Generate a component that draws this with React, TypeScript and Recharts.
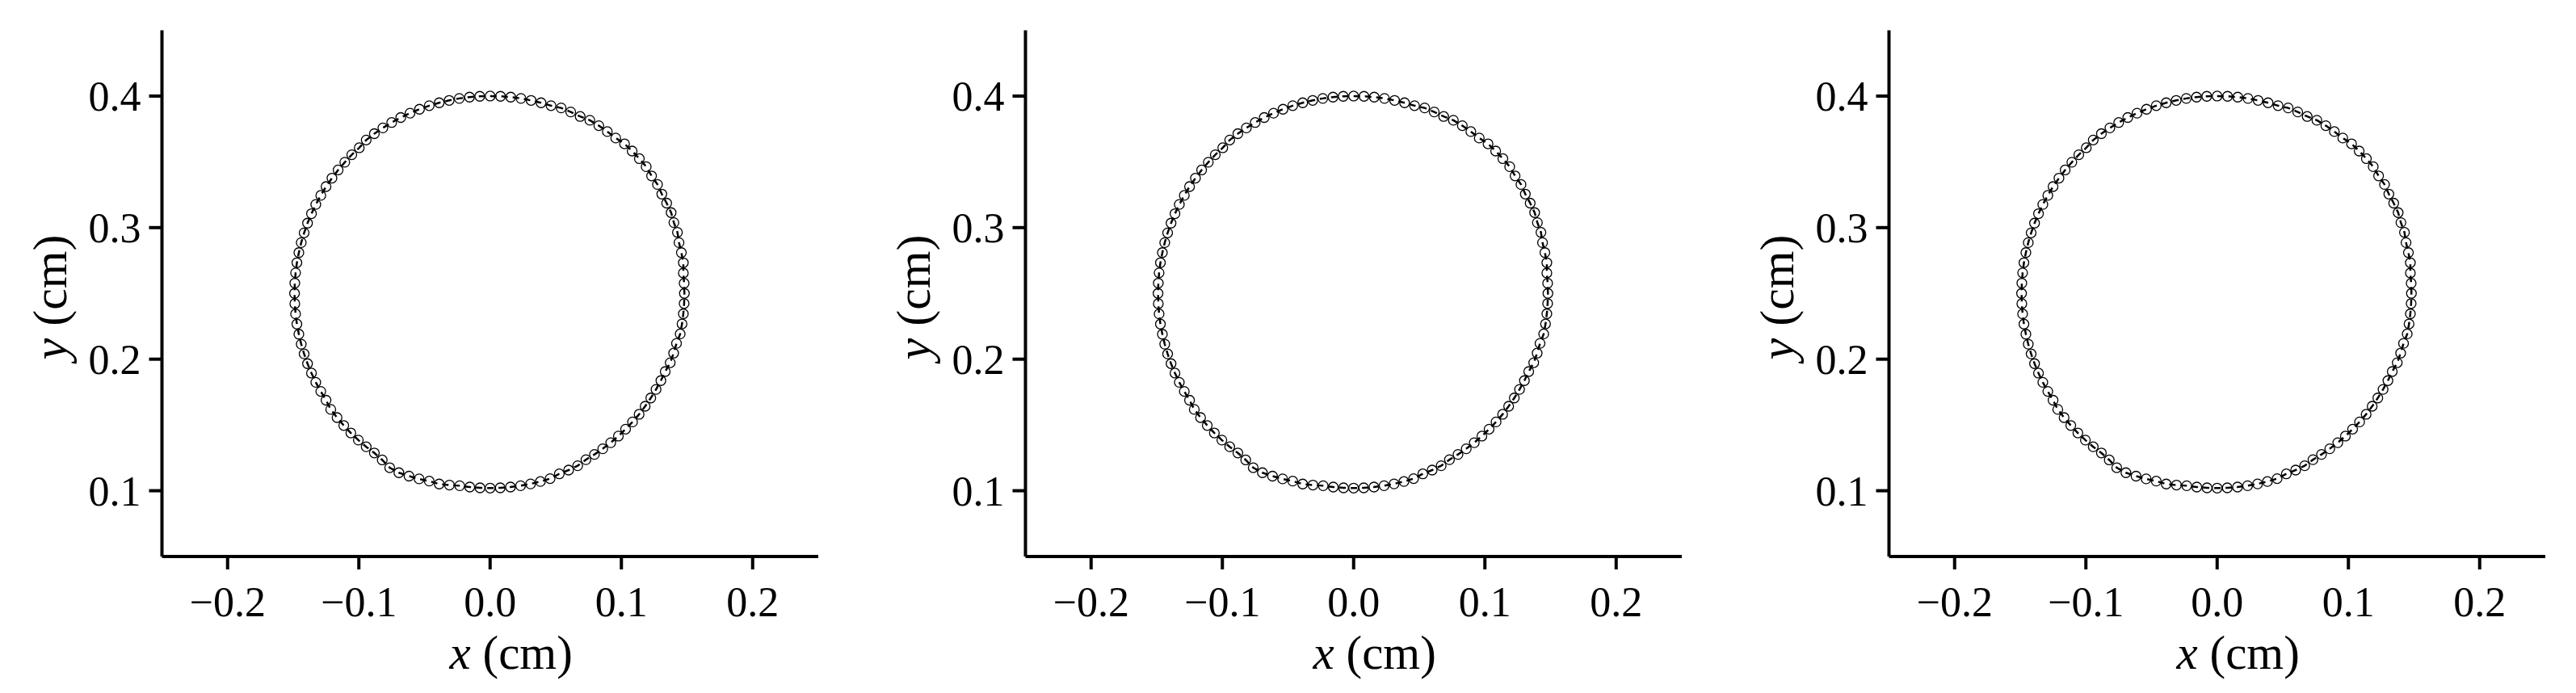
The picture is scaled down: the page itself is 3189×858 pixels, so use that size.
import React from 'react';
import { ScatterChart, Scatter, XAxis, YAxis, Label } from 'recharts';

// boundary points (x, y in cm), counter-clockwise from the right side
const ring: [number, number][] = [
  [0.148, 0.25], [0.1478, 0.2577], [0.1472, 0.2655], [0.1472, 0.2733], [0.1457, 0.281],
  [0.1439, 0.2886], [0.1427, 0.2964], [0.14, 0.3038], [0.1379, 0.3114], [0.1345, 0.3186],
  [0.1308, 0.3255], [0.1275, 0.3328], [0.123, 0.3393], [0.1189, 0.3463], [0.1137, 0.3524],
  [0.1082, 0.3582], [0.1024, 0.3637], [0.0957, 0.3681], [0.0893, 0.373], [0.0828, 0.3775],
  [0.076, 0.3816], [0.0686, 0.3845], [0.0614, 0.3879], [0.0541, 0.391], [0.0464, 0.3927],
  [0.0388, 0.3949], [0.0312, 0.3967], [0.0235, 0.3982], [0.0157, 0.3992], [0.0079, 0.3998],
  [0, 0.4], [-0.0079, 0.3998], [-0.0157, 0.3992], [-0.0235, 0.3982], [-0.0312, 0.3967],
  [-0.0388, 0.3949], [-0.0464, 0.3927], [-0.0538, 0.39], [-0.061, 0.387], [-0.0681, 0.3837],
  [-0.075, 0.3799], [-0.0817, 0.3758], [-0.0882, 0.3714], [-0.0944, 0.3666], [-0.0997, 0.3607],
  [-0.1054, 0.3554], [-0.1107, 0.3497], [-0.1158, 0.3438], [-0.1205, 0.3376], [-0.125, 0.3312],
  [-0.129, 0.3245], [-0.1328, 0.3176], [-0.1361, 0.3106], [-0.1391, 0.3034], [-0.1417, 0.296],
  [-0.1439, 0.2886], [-0.1457, 0.281], [-0.1472, 0.2733], [-0.1482, 0.2656], [-0.1488, 0.2578],
  [-0.149, 0.25], [-0.1488, 0.2422], [-0.1482, 0.2344], [-0.1472, 0.2267], [-0.1457, 0.219],
  [-0.1439, 0.2114], [-0.1417, 0.204], [-0.1391, 0.1966], [-0.1361, 0.1894], [-0.1328, 0.1824],
  [-0.129, 0.1755], [-0.125, 0.1688], [-0.1214, 0.1618], [-0.1166, 0.1556], [-0.1115, 0.1496],
  [-0.1061, 0.1439], [-0.1004, 0.1385], [-0.0944, 0.1334], [-0.0882, 0.1287], [-0.0822, 0.1234],
  [-0.0765, 0.1175], [-0.0695, 0.1137], [-0.0618, 0.1111], [-0.0541, 0.109], [-0.0464, 0.1073],
  [-0.0388, 0.1051], [-0.031, 0.1043], [-0.0232, 0.1038], [-0.0155, 0.1028], [-0.0077, 0.1022],
  [0, 0.102], [0.0077, 0.1022], [0.0155, 0.1028], [0.0232, 0.1038], [0.0308, 0.1052],
  [0.0383, 0.107], [0.0457, 0.1092], [0.0527, 0.1128], [0.0598, 0.1157], [0.0667, 0.119],
  [0.073, 0.1236], [0.0795, 0.1276], [0.0858, 0.1319], [0.0919, 0.1365], [0.0977, 0.1415],
  [0.1032, 0.1468], [0.1085, 0.1523], [0.1135, 0.1581], [0.1181, 0.1642], [0.1224, 0.1705],
  [0.1264, 0.177], [0.1301, 0.1837], [0.1334, 0.1906], [0.1372, 0.1973], [0.1398, 0.2046],
  [0.142, 0.212], [0.1448, 0.2192], [0.1462, 0.2268], [0.1472, 0.2345], [0.1478, 0.2423],
];

// the three panels look the same at this resolution
const panels = [ring, ring, ring];

const xTicks = [-0.2, -0.1, 0, 0.1, 0.2];
const yTicks = [0.1, 0.2, 0.3, 0.4];

const FONT = '"Liberation Serif", "DejaVu Serif", serif';
const CHART_W = 1069;
const CHART_H = 858;
const PANEL_STEP = 1068.75;

const fmt = (v: number) => (v < 0 ? '\u2212' : '') + Math.abs(v).toFixed(1);

const Marker = (props: any) => {
  const { cx, cy } = props;
  if (cx == null || cy == null) return <g />;
  return <circle cx={cx} cy={cy} r={6} fill="#fff" stroke="#000" strokeWidth={1.3} />;
};

const Empty = () => <g />;

const XLabel = (props: any) => {
  const vb = props.viewBox || {};
  const cx = vb.x + vb.width / 2 + 26;
  return (
    <text x={cx} y={828} textAnchor="middle" fontFamily={FONT} fontSize={59} fill="#000">
      <tspan fontStyle="italic">x</tspan> (cm)
    </text>
  );
};

const YLabel = () => (
  <text
    x={82}
    y={368}
    transform="rotate(-90, 82, 368)"
    textAnchor="middle"
    fontFamily={FONT}
    fontSize={60}
    fill="#000"
  >
    <tspan fontStyle="italic">y</tspan> (cm)
  </text>
);

const Panel = ({ pts }: { pts: [number, number][] }) => {
  const data = pts.map(([x, y]) => ({ x, y }));
  const loop = [...data, data[0]];
  const tickStyle = { fontSize: 52, fill: '#000', fontFamily: FONT };
  return (
    <ScatterChart width={CHART_W} height={CHART_H} margin={{ top: 37.5, right: 56, bottom: 0, left: 10.5 }}>
      <XAxis
        type="number"
        dataKey="x"
        domain={[-0.25, 0.25]}
        ticks={xTicks}
        interval={0}
        allowDataOverflow
        height={169}
        tickSize={16}
        tickMargin={21}
        tickFormatter={fmt}
        tick={tickStyle}
        axisLine={{ stroke: '#000', strokeWidth: 4 }}
        tickLine={{ stroke: '#000', strokeWidth: 4 }}
      >
        <Label content={<XLabel />} />
      </XAxis>
      <YAxis
        type="number"
        dataKey="y"
        domain={[0.05, 0.45]}
        ticks={yTicks}
        interval={0}
        allowDataOverflow
        width={190}
        tickSize={16}
        tickMargin={10}
        tickFormatter={fmt}
        tick={tickStyle}
        axisLine={{ stroke: '#000', strokeWidth: 4 }}
        tickLine={{ stroke: '#000', strokeWidth: 4 }}
      >
        <Label content={<YLabel />} />
      </YAxis>
      <Scatter data={data} shape={<Marker />} isAnimationActive={false} />
      <Scatter
        data={loop}
        shape={<Empty />}
        line={{ stroke: '#000', strokeWidth: 2.5, strokeDasharray: '8 6' }}
        lineType="joint"
        isAnimationActive={false}
      />
    </ScatterChart>
  );
};

export default function App() {
  return (
    <div style={{ position: 'absolute', left: 0, top: 0, width: 3189, height: 858, background: '#fff' }}>
      {panels.map((pts, i) => (
        <div key={i} style={{ position: 'absolute', left: i * PANEL_STEP, top: 0 }}>
          <Panel pts={pts} />
        </div>
      ))}
    </div>
  );
}
